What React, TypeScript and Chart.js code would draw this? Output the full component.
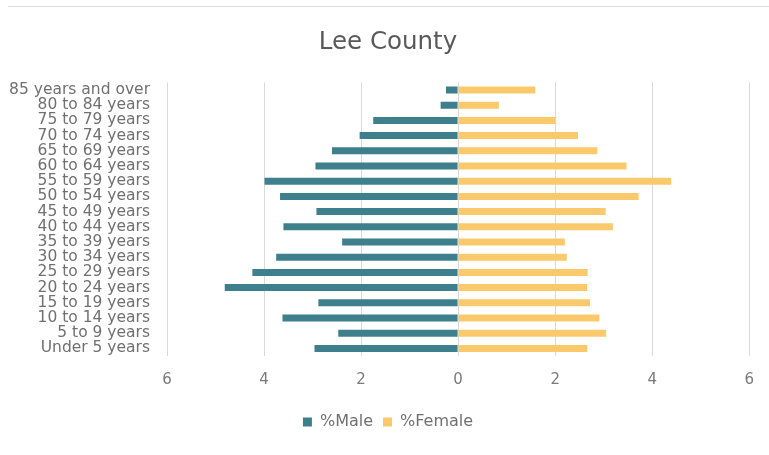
import React, { useEffect, useRef } from "react";
import { Chart, registerables } from "chart.js";

Chart.register(...registerables);

// Age groups, top to bottom
const ageGroups = [
  "85 years and over",
  "80 to 84 years",
  "75 to 79 years",
  "70 to 74 years",
  "65 to 69 years",
  "60 to 64 years",
  "55 to 59 years",
  "50 to 54 years",
  "45 to 49 years",
  "40 to 44 years",
  "35 to 39 years",
  "30 to 34 years",
  "25 to 29 years",
  "20 to 24 years",
  "15 to 19 years",
  "10 to 14 years",
  "5 to 9 years",
  "Under 5 years",
];

// Share of population (%) per age group
const malePct = [
  0.25, 0.36, 1.75, 2.03, 2.6, 2.94, 3.99, 3.67, 2.92,
  3.6, 2.39, 3.75, 4.24, 4.81, 2.88, 3.62, 2.47, 2.96,
];
const femalePct = [
  1.59, 0.84, 2.01, 2.47, 2.87, 3.47, 4.39, 3.72, 3.04,
  3.19, 2.2, 2.24, 2.67, 2.66, 2.72, 2.91, 3.05, 2.66,
];

const seriesNames = ["%Male", "%Female"];
const axisMin = -6;
const axisMax = 6;
const axisStep = 2;

const MALE_COLOR = "#3d7f8d";
const FEMALE_COLOR = "#fac96c";
const FONT = "'DejaVu Sans', 'Open Sans', sans-serif";

// Lets the long age labels spill into the left margin instead of being clipped.
const widenLabelArea = {
  id: "widenLabelArea",
  afterLayout(chart: Chart) {
    const y = chart.scales.y;
    if (y) y.left = 0;
  },
};

export default function App() {
  const canvasRef = useRef<HTMLCanvasElement | null>(null);

  useEffect(() => {
    if (!canvasRef.current) return;
    const chart = new Chart(canvasRef.current, {
      type: "bar",
      data: {
        labels: ageGroups,
        datasets: [
          {
            label: seriesNames[0],
            // males drawn to the left of zero
            data: malePct.map((v) => -v),
            backgroundColor: MALE_COLOR,
            barPercentage: 0.46,
            categoryPercentage: 1,
          },
          {
            label: seriesNames[1],
            data: femalePct,
            backgroundColor: FEMALE_COLOR,
            barPercentage: 0.46,
            categoryPercentage: 1,
          },
        ],
      },
      options: {
        indexAxis: "y",
        responsive: false,
        animation: false,
        layout: { padding: { left: 24, right: 17, top: 0, bottom: 15 } },
        scales: {
          x: {
            stacked: true,
            min: axisMin,
            max: axisMax,
            border: { display: false },
            grid: { color: "#d9d9d9", drawTicks: false },
            ticks: {
              stepSize: axisStep,
              padding: 15,
              color: "#7a7a7a",
              font: { family: FONT, size: 15 },
              callback: (v) => String(Math.abs(Number(v))),
            },
          },
          y: {
            stacked: true,
            border: { display: false },
            grid: { display: false, drawTicks: false },
            afterFit: (scale) => {
              // fixed label column width
              scale.width = 143;
            },
            ticks: {
              autoSkip: false,
              padding: 17,
              color: "#707070",
              font: { family: FONT, size: 15.5 },
            },
          },
        },
        plugins: {
          title: {
            display: true,
            text: "Lee County",
            color: "#595959",
            font: { family: FONT, size: 24.5, weight: "normal" },
            padding: { top: 28, bottom: 25 },
          },
          legend: {
            position: "bottom",
            labels: {
              boxWidth: 9,
              boxHeight: 9,
              padding: 10,
              color: "#707070",
              font: { family: FONT, size: 16 },
            },
          },
          tooltip: { enabled: false },
        },
      },
      plugins: [widenLabelArea],
    });
    return () => chart.destroy();
  }, []);

  return (
    <div style={{ position: "absolute", left: 0, top: 0, width: 769, height: 455, background: "#ffffff" }}>
      <div style={{ position: "absolute", left: 8, right: 0, top: 6, height: 1, background: "#dcdcdc" }} />
      <canvas ref={canvasRef} width={769} height={455} style={{ display: "block" }} />
    </div>
  );
}
